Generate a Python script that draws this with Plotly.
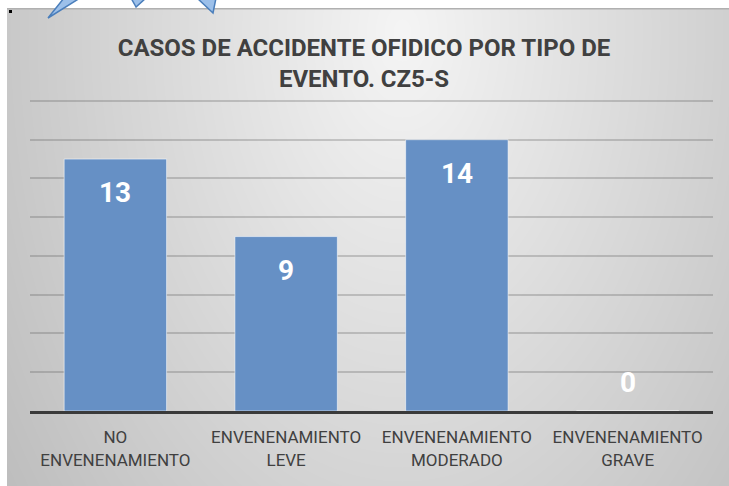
import base64, struct, zlib
import numpy as np
import plotly.graph_objects as go

# ---- data ----
categories = ["NO<br>ENVENENAMIENTO", "ENVENENAMIENTO<br>LEVE",
              "ENVENENAMIENTO<br>MODERADO", "ENVENENAMIENTO<br>GRAVE"]
values = [13, 9, 14, 0]
title_text = "CASOS DE ACCIDENTE OFIDICO POR TIPO DE<br>EVENTO. CZ5-S"

W, H = 729, 486
ML, MR, MT, MB = 30, 16, 99, 75
PW, PH = W - ML - MR, H - MT - MB
YMAX = 16.1
FONT = "Roboto, Arial, sans-serif"

# chart-area (gray panel) in screen pixels
CX0, CY0 = 7, 8


def px(X, Y):
    """screen pixel -> paper coords"""
    return (X - ML) / PW, (H - MB - Y) / PH


def png_uri(arr):
    h, w = arr.shape
    raw = b"".join(b"\x00" + arr[r].tobytes() for r in range(h))
    def chunk(t, d):
        c = struct.pack(">I", len(d)) + t + d
        return c + struct.pack(">I", zlib.crc32(t + d) & 0xffffffff)
    data = (b"\x89PNG\r\n\x1a\n" + chunk(b"IHDR", struct.pack(">IIBBBBB", w, h, 8, 0, 0, 0, 0))
            + chunk(b"IDAT", zlib.compress(raw, 9)) + chunk(b"IEND", b""))
    return "data:image/png;base64," + base64.b64encode(data).decode()


# background radial gradient over the panel
gw, gh = W - CX0, H - CY0
yy, xx = np.mgrid[0:gh, 0:gw]
SX, SY = xx + CX0, yy + CY0
t = np.sqrt(((SX - 402) / 445.0) ** 2 + ((SY - 33) / 700.0) ** 2)
t = np.clip(t, 0, 1.15)
grad = np.clip(245 - 50 * t, 0, 255).astype(np.uint8)
bg_uri = png_uri(grad)

fig = go.Figure()
fig.add_trace(go.Bar(
    x=categories, y=values, width=0.6,
    marker=dict(color="#6690c5", line=dict(color="rgba(255,255,255,0.55)", width=1)),
    hoverinfo="skip",
))

for c, v in zip(categories, values):
    if v > 0:
        fig.add_annotation(x=c, y=v, text=f"<b>{v}</b>", showarrow=False,
                           yanchor="top", yshift=-15,
                           font=dict(family=FONT, size=28, color="white"))
    else:
        fig.add_annotation(x=c, y=v, text=f"<b>{v}</b>", showarrow=False,
                           yanchor="bottom", yshift=10,
                           font=dict(family=FONT, size=28, color="white"))

x0, y0 = px(CX0, CY0)
x1, y1 = px(W, H)
fig.add_layout_image(dict(source=bg_uri, xref="paper", yref="paper", x=x0, y=y0,
                          sizex=x1 - x0, sizey=y0 - y1, xanchor="left", yanchor="top",
                          sizing="stretch", layer="below"))

shapes = []
# top border of chart area
a, b = px(CX0, 8.7)
c, d = px(W + 5, 8.7)
shapes.append(dict(type="line", xref="paper", yref="paper", x0=a, y0=b, x1=c, y1=d,
                   line=dict(color="#b0b0b0", width=1.5)))
# small black mark
a, b = px(9, 10)
c, d = px(12, 13)
shapes.append(dict(type="rect", xref="paper", yref="paper", x0=a, y0=b, x1=c, y1=d,
                   fillcolor="black", line=dict(width=0)))
# blue pointer shapes at top (partially visible)
tris = [[(48, 18), (64, -2), (80, -2)], [(136, 7), (131, -2), (146, -2)], [(213, 13), (197, -2), (216, -2)]]
for tri in tris:
    pts = [px(X, Y) for X, Y in tri]
    path = "M " + " L ".join(f"{p[0]},{p[1]}" for p in pts) + " Z"
    shapes.append(dict(type="path", xref="paper", yref="paper", path=path,
                       fillcolor="#9cc0ea", line=dict(color="#4a7ebb", width=1.5)))
fig.update_layout(shapes=shapes)

fig.update_layout(
    width=W, height=H,
    margin=dict(l=ML, r=MR, t=MT, b=MB),
    paper_bgcolor="white", plot_bgcolor="rgba(0,0,0,0)",
    showlegend=False,
    bargap=0.4,
    title=dict(text=title_text, x=364 / W, xanchor="center", xref="container",
               y=1 - 56 / H, yanchor="middle", yref="container",
               font=dict(family=FONT, size=24, color="#404040", weight="bold")),
    xaxis=dict(showline=True, linecolor="#3a3a3a", linewidth=3, ticks="",
               ticklabelstandoff=9,
               tickfont=dict(family=FONT, size=17, color="#404040"),
               showgrid=False),
    yaxis=dict(range=[0, YMAX], dtick=2, showticklabels=False, showgrid=True,
               gridcolor="rgba(90,90,90,0.28)", gridwidth=1.5, zeroline=False, fixedrange=True),
)

fig.write_html("out.html", config={"displayModeBar": False},
               post_script="document.body.style.margin='0';")
